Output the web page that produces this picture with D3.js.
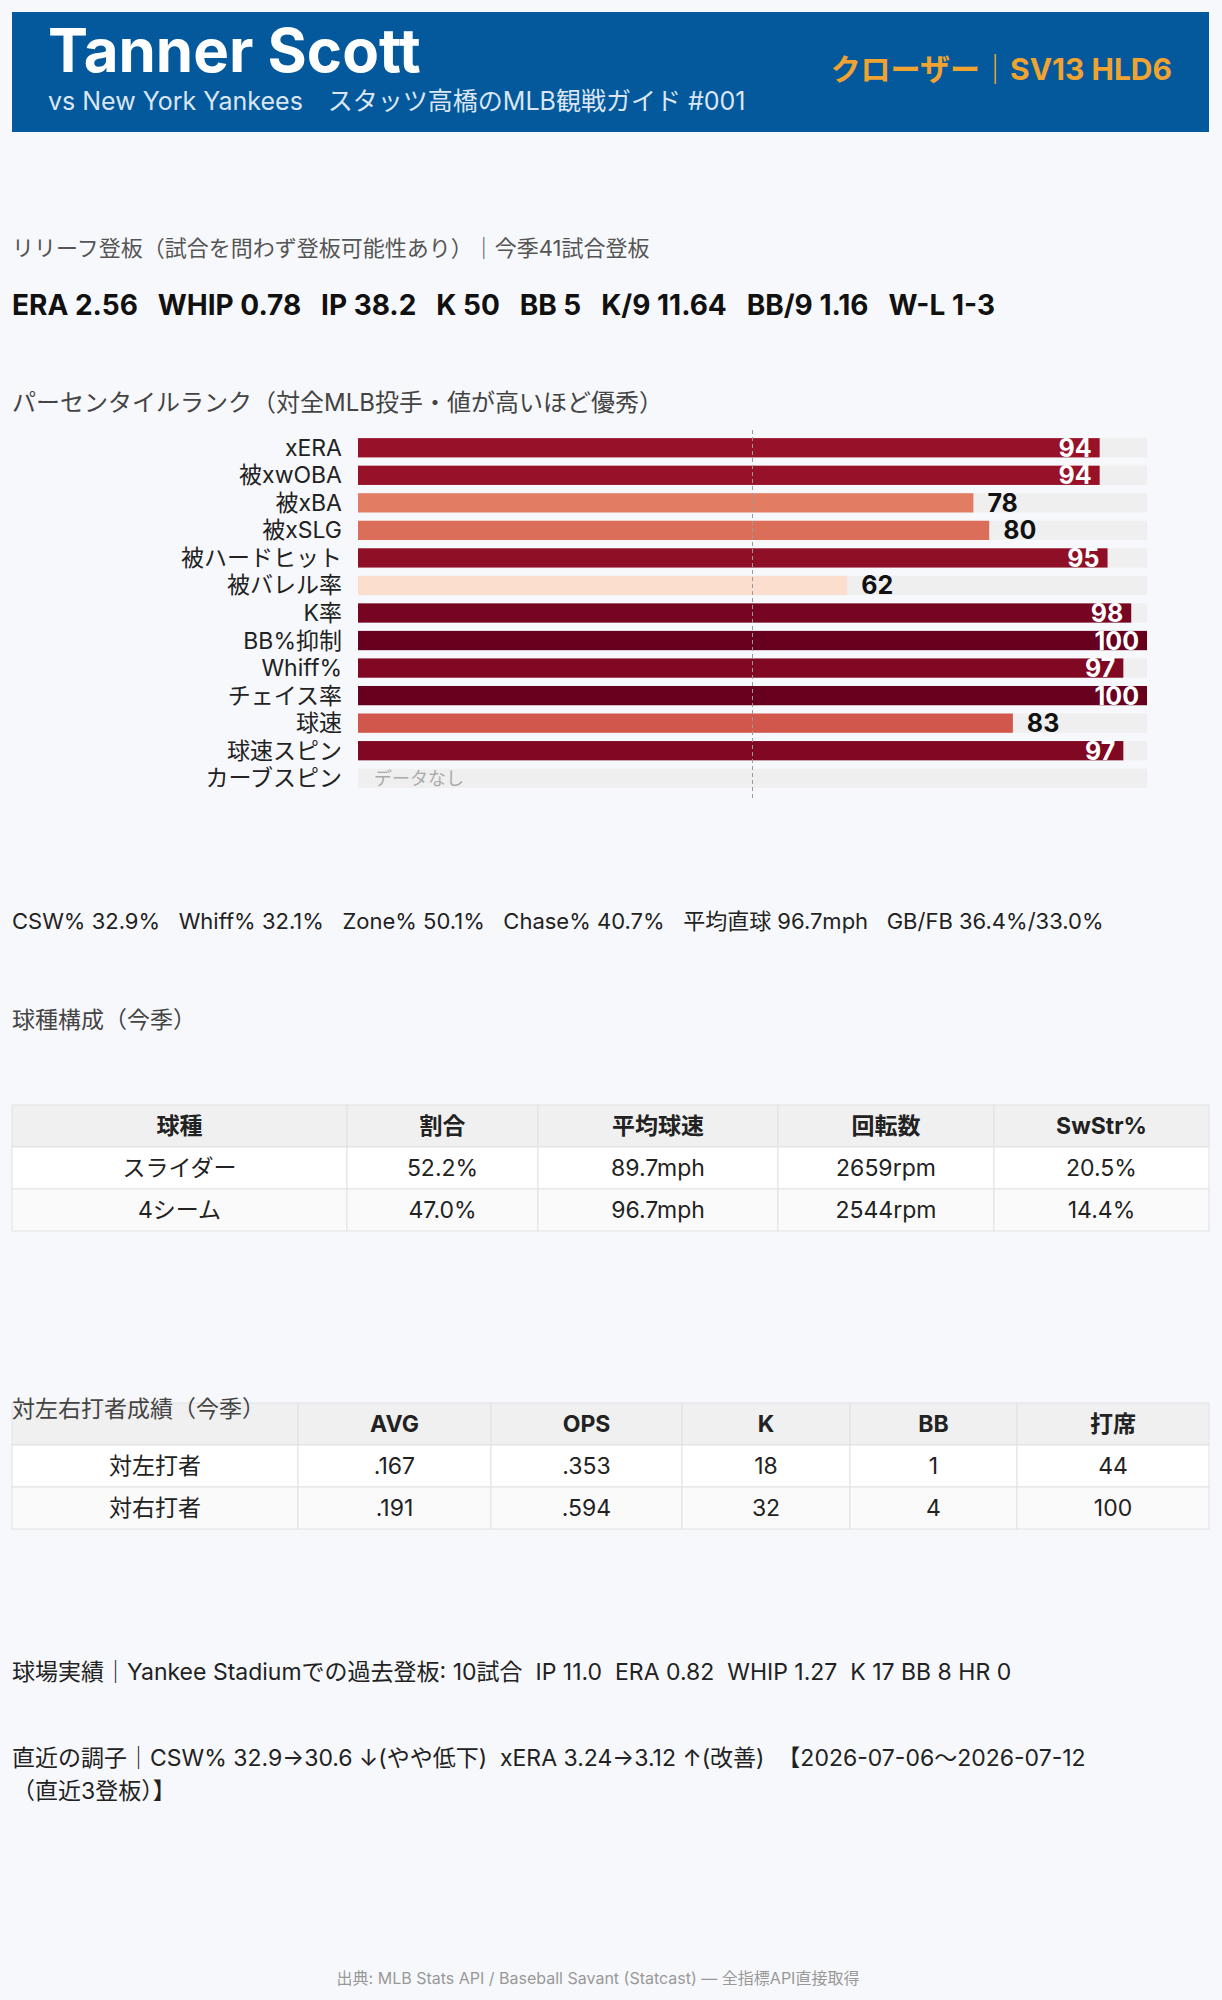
<!DOCTYPE html>
<html><head><meta charset="utf-8">
<script src="https://cdn.jsdelivr.net/npm/d3@7"></script>
<style>body{margin:0;background:#f7f8fb;}svg{display:block;font-family:Inter,"Noto Sans CJK JP","Noto Sans",sans-serif;}</style>
</head><body><svg id="c" width="1222" height="2000"></svg>
<script>
const pctLabels=["xERA","被xwOBA","被xBA","被xSLG","被ハードヒット","被バレル率","K率","BB%抑制","Whiff%","チェイス率","球速","球速スピン","カーブスピン"];
const pctValues=[94,94,78,80,95,62,98,100,97,100,83,97,null];
const statsLine="ERA 2.56   WHIP 0.78   IP 38.2   K 50   BB 5   K/9 11.64   BB/9 1.16   W-L 1-3";
const pitchCols=["球種","割合","平均球速","回転数","SwStr%"];
const pitchRows=[["スライダー","52.2%","89.7mph","2659rpm","20.5%"],["4シーム","47.0%","96.7mph","2544rpm","14.4%"]];
const splitCols=["","AVG","OPS","K","BB","打席"];
const splitRows=[["対左打者",".167",".353","18","1","44"],["対右打者",".191",".594","32","4","100"]];

const svg=d3.select("#c");
svg.append("rect").attr("width",1222).attr("height",2000).attr("fill","#f7f8fb");
svg.append("rect").attr("x",12).attr("y",12).attr("width",1197).attr("height",120).attr("fill","#03599c");
const T=(x,y,s,o={})=>svg.append("text").attr("x",x).attr("y",y).text(s).attr("xml:space","preserve")
 .attr("font-size",o.fs||22).attr("fill",o.fill||"#222").attr("font-weight",o.fw||400).attr("text-anchor",o.a||"start");
T(48,72,"Tanner Scott",{fs:60,fw:700,fill:"#fff"});
T(48,110,"vs New York Yankees　スタッツ高橋のMLB観戦ガイド #001",{fs:25,fill:"#dbe6f2"});
T(1172,80,"クローザー｜SV13 HLD6",{fs:30,fw:700,fill:"#f0a330",a:"end"});
T(12,256,"リリーフ登板（試合を問わず登板可能性あり）｜今季41試合登板",{fs:22,fill:"#555"});
T(12,315,statsLine,{fs:28,fw:700,fill:"#111"});
T(12,411,"パーセンタイルランク（対全MLB投手・値が高いほど優秀）",{fs:24,fill:"#444"});

const x=d3.scaleLinear().domain([0,100]).range([358,1147]);
const y=d3.scaleBand().domain(pctLabels).range([434,792]).paddingInner(0.3).paddingOuter(0.15);
const col=v=>d3.interpolateRdBu(Math.max(0,(100-v)*1.1/100));
const g=svg.append("g");
pctLabels.forEach((l,i)=>{
 const v=pctValues[i],yy=y(l),h=y.bandwidth(),cy=yy+h/2;
 g.append("rect").attr("x",x(0)).attr("y",yy).attr("width",x(100)-x(0)).attr("height",h).attr("fill","#efefef");
 g.append("text").attr("x",342).attr("y",cy+8).attr("text-anchor","end").attr("font-size",23).attr("fill","#222").text(l);
 if(v==null){g.append("text").attr("x",x(0)+16).attr("y",cy+7).attr("font-size",18).attr("fill","#aaa").text("データなし");return;}
 g.append("rect").attr("x",x(0)).attr("y",yy).attr("width",x(v)-x(0)).attr("height",h).attr("fill",col(v));
 const inside=v>=90;
 g.append("text").attr("x",inside?x(v)-8:x(v)+14).attr("y",cy+9).attr("text-anchor",inside?"end":"start")
  .attr("font-size",25).attr("font-weight",700).attr("fill",inside?"#fff":"#111").text(v);
});
g.append("line").attr("x1",x(50)).attr("x2",x(50)).attr("y1",430).attr("y2",800).attr("stroke","#999").attr("stroke-dasharray","4,3");

T(12,929,"CSW% 32.9%   Whiff% 32.1%   Zone% 50.1%   Chase% 40.7%   平均直球 96.7mph   GB/FB 36.4%/33.0%",{fs:22});
T(12,1028,"球種構成（今季）",{fs:23,fill:"#444"});

function table(cols,rows,bounds,top,rh){
 const tg=svg.append("g");
 [cols,...rows].forEach((r,ri)=>{
  const yy=top+ri*rh;
  r.forEach((c,ci)=>{
   tg.append("rect").attr("x",bounds[ci]).attr("y",yy).attr("width",bounds[ci+1]-bounds[ci]).attr("height",rh)
    .attr("fill",ri==0?"#f0f0f0":(ri==1?"#fff":"#fafafa")).attr("stroke","#e2e2e2");
   tg.append("text").attr("x",(bounds[ci]+bounds[ci+1])/2).attr("y",yy+rh/2+8).attr("text-anchor","middle")
    .attr("font-size",23).attr("font-weight",ri==0?700:400).attr("fill","#222").text(c);
  });
 });
}
table(pitchCols,pitchRows,[12,347,538,778,994,1209],1105,42);
table(splitCols,splitRows,[12,298,491,682,850,1017,1209],1403,42);
T(12,1417,"対左右打者成績（今季）",{fs:23,fill:"#444"});

T(12,1680,"球場実績｜Yankee Stadiumでの過去登板: 10試合  IP 11.0  ERA 0.82  WHIP 1.27  K 17 BB 8 HR 0",{fs:23});
T(12,1766,"直近の調子｜CSW% 32.9→30.6 ↓(やや低下)  xERA 3.24→3.12 ↑(改善)  【2026-07-06〜2026-07-12",{fs:23});
T(12,1799,"（直近3登板）】",{fs:23});
T(598,1984,"出典: MLB Stats API / Baseball Savant (Statcast) — 全指標API直接取得",{fs:16,fill:"#999",a:"middle"});
</script></body></html>
